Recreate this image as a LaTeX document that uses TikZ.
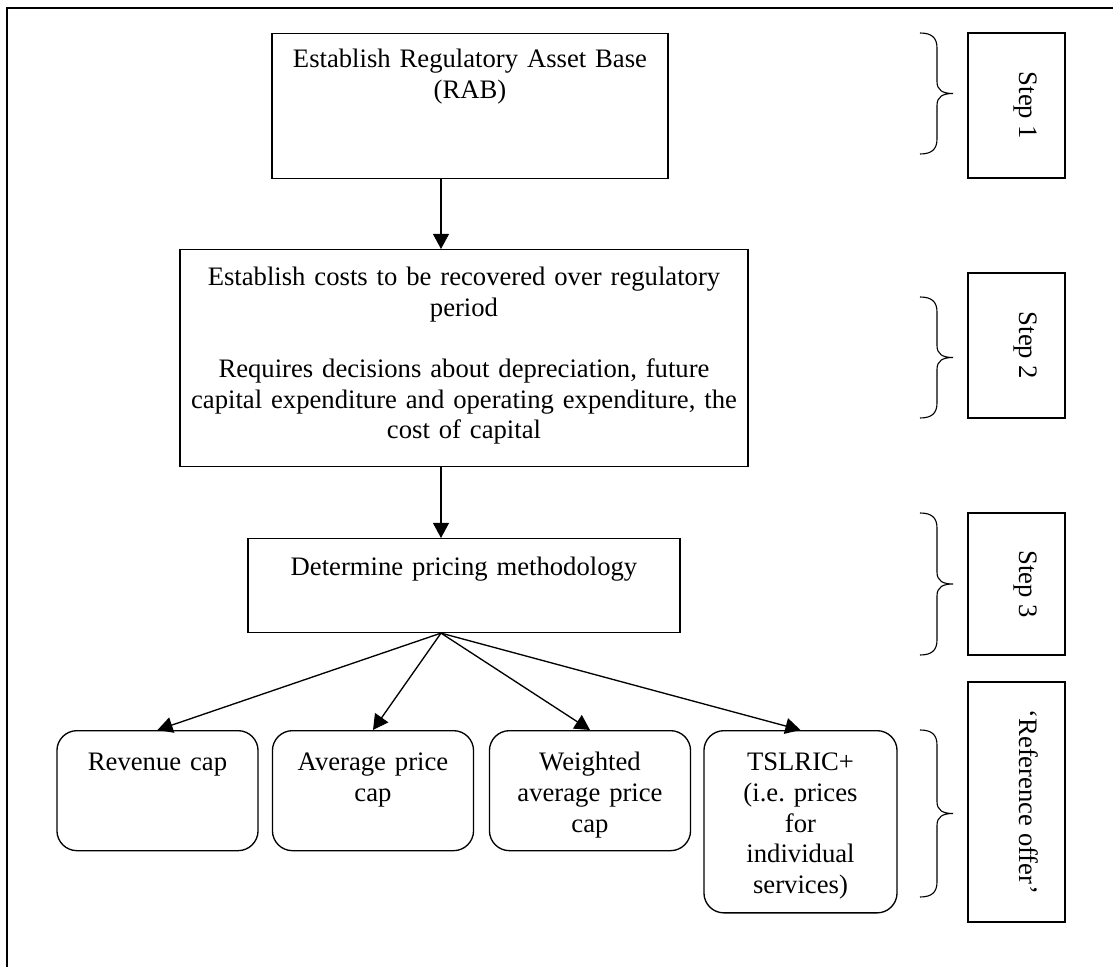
\documentclass[tikz,border=0pt]{standalone}
\usepackage{fontspec}
\setmainfont{Liberation Serif}
\usetikzlibrary{arrows.meta}

\tikzset{
  stagebox/.style={draw, line width=0.6pt, align=center, inner sep=0pt, anchor=north},
  optionbox/.style={stagebox, rounded corners=9pt, text width=90.5pt, text height=18pt, text depth=36pt},
  stepbox/.style={draw, line width=0.6pt, rotate=-90, inner sep=0pt, text height=20.7pt, text depth=23pt},
  bracket/.style={line width=0.5pt},
  arr/.style={-{Triangle[length=6.8pt, width=7.2pt]}, line width=0.6pt}
}
% right-pointing curly brace in front of a step label: top, bottom
\newcommand{\sidebrace}[2]{%
  \draw[bracket] (920,#1) .. controls (932,#1) and (937,{#1+5}) .. (937,{#1+15})
    -- (937,{(#1+#2)/2-12}) .. controls (937,{(#1+#2)/2-3}) and (943,{(#1+#2)/2}) .. (953,{(#1+#2)/2})
    .. controls (943,{(#1+#2)/2}) and (937,{(#1+#2)/2+3}) .. (937,{(#1+#2)/2+12})
    -- (937,{#2-15}) .. controls (937,{#2-5}) and (932,#2) .. (920,#2);
}

\begin{document}
\frenchspacing
\begin{tikzpicture}[x=0.45pt, y=-0.45pt, font=\fontsize{12pt}{13.8pt}\selectfont]
    \useasboundingbox (0,0) rectangle (1113,967);
    % Outer frame, only its top and left edges are on the page
    \draw[line width=0.9pt] (7,990) -- (7,8) -- (1130,8);
    % Stages of the price decision
    \node[stagebox, text width=178.2pt, text height=15.3pt, text depth=50pt] (rab) at (470,33)
        {Establish Regulatory Asset Base\\(RAB)};
    \node[stagebox, text width=255.6pt, text height=16.2pt, text depth=81.5pt] (costs) at (464,249)
        {Establish costs to be recovered over regulatory\\period\\[\baselineskip]
         Requires decisions about depreciation, future\\capital expenditure and operating expenditure, the\\cost of capital};
    \node[stagebox, text width=194.4pt, text height=16.6pt, text depth=25.6pt] (pricing) at (464,538)
        {Determine pricing methodology};
    % Pricing options
    \node[optionbox] (revcap) at (157.5,730) {Revenue cap};
    \node[optionbox] (apc) at (373,730) {Average price\\cap};
    \node[optionbox] (wapc) at (590,730) {Weighted\\average price\\cap};
    \node[optionbox, text width=86.9pt, text depth=64pt] (tslric) at (800.5,730)
        {TSLRIC+\\(i.e. prices\\for\\individual\\services)};
    % Step labels with their braces
    \node[stepbox, minimum width=65.25pt] (step1) at (1016.5,105.5) {Step 1};
    \node[stepbox, minimum width=65.25pt] (step2) at (1016.5,345.5) {Step 2};
    \node[stepbox, minimum width=63.9pt] (step3) at (1016.5,584) {Step 3};
    \node[stepbox, minimum width=108pt] (refoffer) at (1016.5,802) {`Reference offer'};
    \sidebrace{33}{154}
    \sidebrace{297}{418}
    \sidebrace{513}{655}
    \sidebrace{730}{897}
    % Arrows
    \coordinate (spine) at (441,0);
    \draw[arr] (rab.south -| spine) -- (costs.north -| spine);
    \draw[arr] (costs.south -| spine) -- (pricing.north -| spine);
    \coordinate (fan) at (pricing.south -| spine);
    \foreach \opt in {revcap, apc, wapc, tslric}
        \draw[arr] (fan) -- (\opt.north);
\end{tikzpicture}
\end{document}
